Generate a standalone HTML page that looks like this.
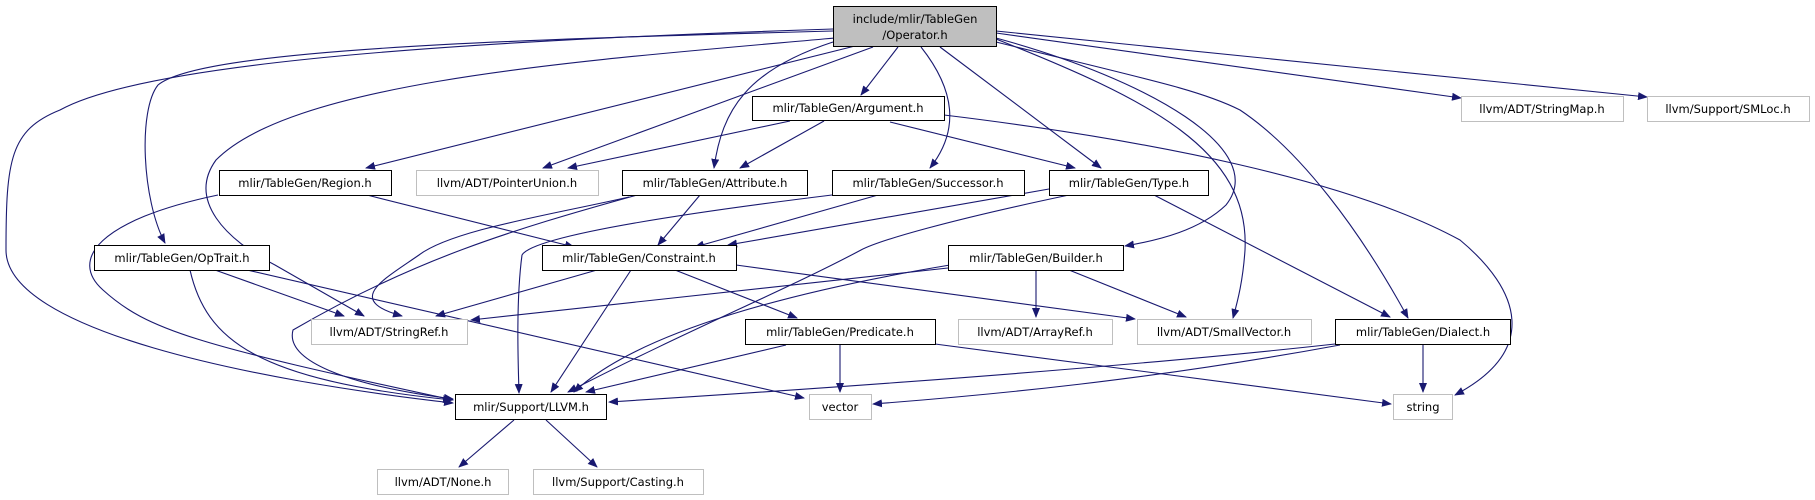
<!DOCTYPE html>
<html><head><meta charset="utf-8"><style>
html,body{margin:0;padding:0;background:#fff;width:1815px;height:500px;overflow:hidden}
text{font-family:"DejaVu Sans","Liberation Sans",sans-serif;font-size:11.5px;fill:#000}
</style></head><body>
<svg width="1815" height="500" viewBox="0 0 1815 500" xmlns="http://www.w3.org/2000/svg">
<defs><marker id="a" markerWidth="10" markerHeight="8" refX="9" refY="4" orient="auto" markerUnits="userSpaceOnUse"><path d="M0,0 L10,4 L0,8 z" fill="#191970"/></marker></defs>
<g fill="none" stroke="#191970" stroke-width="1.1" marker-end="url(#a)">
<!-- Operator -->
<path d="M833,29 C490,40 150,60 60,110 C10,130 6,160 6,250 C6,330 250,380 453,403"/>
<path d="M833,31 C490,40 200,50 158,85 C138,110 142,200 165,243"/>
<path d="M835,38 C590,60 295,80 216,160 C187,200 226,240 275,265 L364,316"/>
<path d="M855,46 L366,168"/>
<path d="M873,47 L543,168"/>
<path d="M833,42 C747,70 722,110 714,168"/>
<path d="M898,47 L861,95"/>
<path d="M921,47 C955,90 960,130 930,168"/>
<path d="M940,47 L1101,168"/>
<path d="M996,38 C1150,80 1270,150 1226,205 C1200,230 1160,240 1125,246"/>
<path d="M996,39 C1150,100 1250,150 1245,250 C1243,280 1238,300 1233,318"/>
<path d="M996,42 C1150,80 1200,90 1240,110 C1300,150 1360,230 1408,318"/>
<path d="M996,33 L1461,98"/>
<path d="M996,31 L1647,97"/>
<!-- Argument -->
<path d="M790,121 L568,168"/>
<path d="M824,121 L740,168"/>
<path d="M890,122 L1075,168"/>
<path d="M944,115 C1150,140 1350,180 1460,240 C1520,290 1540,350 1455,395"/>
<!-- Region -->
<path d="M367,195 L574,247"/>
<path d="M218,195 C98,220 69,260 103,290 C147,330 197,345 453,400"/>
<!-- Attribute -->
<path d="M700,195 L658,245"/>
<path d="M629,197 C550,215 452,230 419,255 C383,280 344,300 402,316"/>
<path d="M637,195 C511,230 413,260 293,330 C285,360 344,385 453,399"/>
<!-- Successor -->
<path d="M878,195 L695,247"/>
<path d="M832,195 C629,220 531,240 522,255 C516,300 518,360 519,393"/>
<!-- Type -->
<path d="M1049,189 L728,245"/>
<path d="M1069,195 C950,220 880,240 861,250 C786,290 688,330 568,392"/>
<path d="M1154,195 L1390,317"/>
<!-- OpTrait -->
<path d="M215,270 L344,316"/>
<path d="M190,270 C206,340 256,380 452,400"/>
<path d="M247,270 L804,398"/>
<!-- Constraint -->
<path d="M597,270 L436,316"/>
<path d="M631,270 L551,392"/>
<path d="M675,270 L797,318"/>
<path d="M736,265 L1135,319"/>
<!-- Builder -->
<path d="M948,268 L471,320"/>
<path d="M950,265 C800,290 640,330 574,392"/>
<path d="M1036,270 L1036,317"/>
<path d="M1069,270 L1186,317"/>
<!-- Predicate -->
<path d="M786,345 L586,392"/>
<path d="M840,345 L840,392"/>
<path d="M935,344 L1391,404"/>
<!-- Dialect -->
<path d="M1423,344 L1423,392"/>
<path d="M1335,344 C1100,370 800,390 609,402"/>
<path d="M1340,345 C1150,380 990,395 873,404"/>
<!-- LLVM -->
<path d="M514,420 L459,467"/>
<path d="M546,420 L597,467"/>
</g>
<g stroke-width="1">
<rect x="833.5" y="6.5" width="163" height="40" fill="#bfbfbf" stroke="#000"/>
<g fill="#fff" stroke="#000">
<rect x="752.5" y="96.5" width="192" height="24"/>
<rect x="219.5" y="170.5" width="172" height="25"/>
<rect x="622.5" y="170.5" width="185" height="25"/>
<rect x="832.5" y="170.5" width="192" height="25"/>
<rect x="1049.5" y="170.5" width="159" height="25"/>
<rect x="94.5" y="245.5" width="175" height="25"/>
<rect x="542.5" y="245.5" width="194" height="25"/>
<rect x="948.5" y="245.5" width="175" height="25"/>
<rect x="745.5" y="319.5" width="190" height="25"/>
<rect x="1335.5" y="319.5" width="175" height="25"/>
<rect x="455.5" y="394.5" width="151" height="25"/>
</g>
<g fill="#fff" stroke="#bfbfbf">
<rect x="1461.5" y="96.5" width="162" height="25"/>
<rect x="1647.5" y="96.5" width="162" height="25"/>
<rect x="416.5" y="170.5" width="182" height="25"/>
<rect x="311.5" y="319.5" width="156" height="25"/>
<rect x="958.5" y="319.5" width="154" height="25"/>
<rect x="1137.5" y="319.5" width="174" height="25"/>
<rect x="809.5" y="394.5" width="62" height="25"/>
<rect x="1393.5" y="394.5" width="59" height="25"/>
<rect x="377.5" y="469.5" width="131" height="25"/>
<rect x="533.5" y="469.5" width="170" height="25"/>
</g>
</g>
<g text-anchor="middle">
<text x="915" y="23">include/mlir/TableGen</text>
<text x="915" y="39">/Operator.h</text>
<text x="848" y="112">mlir/TableGen/Argument.h</text>
<text x="1542" y="113">llvm/ADT/StringMap.h</text>
<text x="1728" y="113">llvm/Support/SMLoc.h</text>
<text x="305" y="187">mlir/TableGen/Region.h</text>
<text x="507" y="187">llvm/ADT/PointerUnion.h</text>
<text x="715" y="187">mlir/TableGen/Attribute.h</text>
<text x="928" y="187">mlir/TableGen/Successor.h</text>
<text x="1129" y="187">mlir/TableGen/Type.h</text>
<text x="182" y="262">mlir/TableGen/OpTrait.h</text>
<text x="639" y="262">mlir/TableGen/Constraint.h</text>
<text x="1036" y="262">mlir/TableGen/Builder.h</text>
<text x="389" y="336">llvm/ADT/StringRef.h</text>
<text x="840" y="336">mlir/TableGen/Predicate.h</text>
<text x="1035" y="336">llvm/ADT/ArrayRef.h</text>
<text x="1224" y="336">llvm/ADT/SmallVector.h</text>
<text x="1423" y="336">mlir/TableGen/Dialect.h</text>
<text x="531" y="411">mlir/Support/LLVM.h</text>
<text x="840" y="411">vector</text>
<text x="1423" y="411">string</text>
<text x="443" y="486">llvm/ADT/None.h</text>
<text x="618" y="486">llvm/Support/Casting.h</text>
</g>
</svg>
</body></html>
